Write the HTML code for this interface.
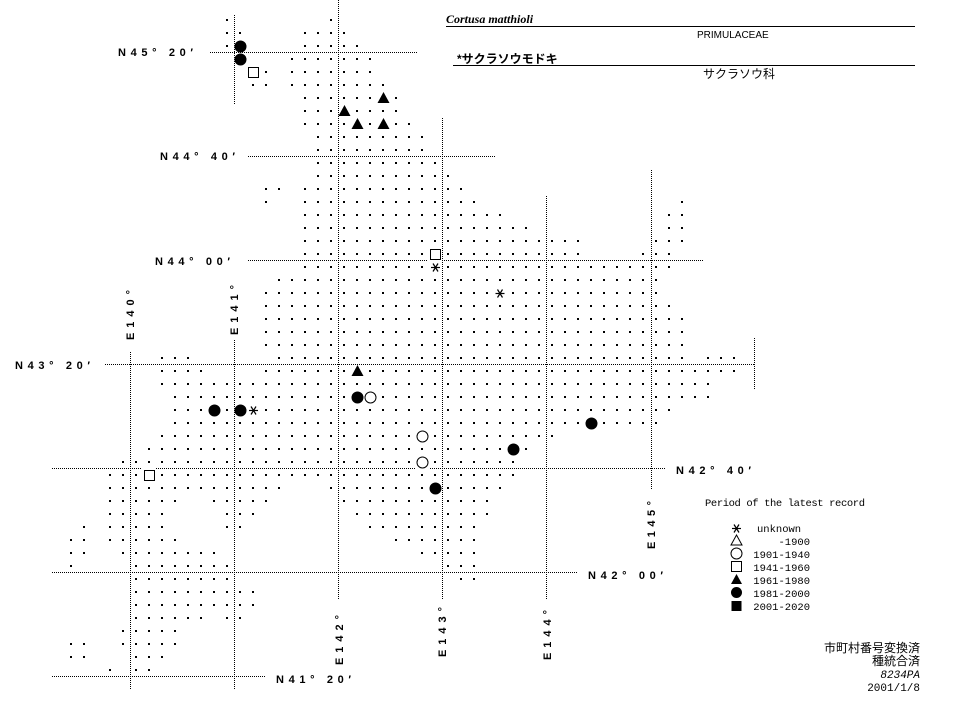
<!DOCTYPE html>
<html><head><meta charset="utf-8"><style>
html,body{margin:0;padding:0;background:#fff;}
svg{display:block;}
.lb{font-family:"Liberation Sans",sans-serif;font-weight:bold;font-size:11px;fill:#000;}
.lg{font-family:"Liberation Mono",monospace;font-size:10.5px;fill:#000;}
.jp{font-family:"Liberation Sans","Noto Sans CJK JP",sans-serif;font-size:12px;fill:#000;}
</style></head><body>
<svg width="974" height="703" viewBox="0 0 974 703" xmlns="http://www.w3.org/2000/svg">
<defs>
<pattern id="d" patternUnits="userSpaceOnUse" x="5" y="6" width="13" height="13"><rect width="2" height="2" fill="#000"/></pattern>
<g id="ast" stroke="#000" stroke-width="1.2" fill="none"><line x1="-4.5" y1="0" x2="4.5" y2="0"/><line x1="-2.5" y1="-4" x2="2.5" y2="4"/><line x1="-2.5" y1="4" x2="2.5" y2="-4"/></g>
</defs>
<rect width="974" height="703" fill="#fff"/>
<g fill="url(#d)">
<rect x="221" y="13" width="13" height="13"/><rect x="325" y="13" width="13" height="13"/>
<rect x="221" y="26" width="26" height="13"/><rect x="299" y="26" width="52" height="13"/>
<rect x="221" y="39" width="13" height="13"/><rect x="299" y="39" width="65" height="13"/>
<rect x="286" y="52" width="91" height="13"/>
<rect x="260" y="65" width="13" height="13"/><rect x="286" y="65" width="91" height="13"/>
<rect x="247" y="78" width="26" height="13"/><rect x="286" y="78" width="104" height="13"/>
<rect x="299" y="91" width="104" height="13"/>
<rect x="299" y="104" width="104" height="13"/>
<rect x="299" y="117" width="117" height="13"/>
<rect x="312" y="130" width="117" height="13"/>
<rect x="312" y="143" width="117" height="13"/>
<rect x="312" y="156" width="130" height="13"/>
<rect x="312" y="169" width="143" height="13"/>
<rect x="260" y="182" width="26" height="13"/><rect x="299" y="182" width="169" height="13"/>
<rect x="260" y="195" width="13" height="13"/><rect x="299" y="195" width="182" height="13"/><rect x="676" y="195" width="13" height="13"/>
<rect x="299" y="208" width="208" height="13"/><rect x="663" y="208" width="26" height="13"/>
<rect x="299" y="221" width="234" height="13"/><rect x="663" y="221" width="26" height="13"/>
<rect x="299" y="234" width="286" height="13"/><rect x="650" y="234" width="39" height="13"/>
<rect x="299" y="247" width="286" height="13"/><rect x="637" y="247" width="39" height="13"/>
<rect x="299" y="260" width="377" height="13"/>
<rect x="273" y="273" width="390" height="13"/>
<rect x="260" y="286" width="403" height="13"/>
<rect x="260" y="299" width="416" height="13"/>
<rect x="260" y="312" width="429" height="13"/>
<rect x="260" y="325" width="429" height="13"/>
<rect x="260" y="338" width="429" height="13"/>
<rect x="156" y="351" width="39" height="13"/><rect x="273" y="351" width="416" height="13"/><rect x="702" y="351" width="39" height="13"/>
<rect x="156" y="364" width="52" height="13"/><rect x="260" y="364" width="481" height="13"/>
<rect x="156" y="377" width="559" height="13"/>
<rect x="169" y="390" width="546" height="13"/>
<rect x="169" y="403" width="507" height="13"/>
<rect x="169" y="416" width="494" height="13"/>
<rect x="156" y="429" width="403" height="13"/>
<rect x="143" y="442" width="390" height="13"/>
<rect x="117" y="455" width="403" height="13"/>
<rect x="104" y="468" width="416" height="13"/>
<rect x="104" y="481" width="182" height="13"/><rect x="325" y="481" width="182" height="13"/>
<rect x="104" y="494" width="78" height="13"/><rect x="208" y="494" width="65" height="13"/><rect x="338" y="494" width="156" height="13"/>
<rect x="104" y="507" width="65" height="13"/><rect x="221" y="507" width="39" height="13"/><rect x="351" y="507" width="143" height="13"/>
<rect x="78" y="520" width="13" height="13"/><rect x="104" y="520" width="65" height="13"/><rect x="221" y="520" width="26" height="13"/><rect x="364" y="520" width="117" height="13"/>
<rect x="65" y="533" width="26" height="13"/><rect x="104" y="533" width="78" height="13"/><rect x="390" y="533" width="91" height="13"/>
<rect x="65" y="546" width="26" height="13"/><rect x="117" y="546" width="104" height="13"/><rect x="416" y="546" width="65" height="13"/>
<rect x="65" y="559" width="13" height="13"/><rect x="130" y="559" width="104" height="13"/><rect x="442" y="559" width="39" height="13"/>
<rect x="130" y="572" width="104" height="13"/><rect x="455" y="572" width="26" height="13"/>
<rect x="130" y="585" width="130" height="13"/>
<rect x="130" y="598" width="130" height="13"/>
<rect x="130" y="611" width="78" height="13"/><rect x="221" y="611" width="26" height="13"/>
<rect x="117" y="624" width="65" height="13"/>
<rect x="65" y="637" width="26" height="13"/><rect x="117" y="637" width="65" height="13"/>
<rect x="65" y="650" width="26" height="13"/><rect x="130" y="650" width="39" height="13"/>
<rect x="104" y="663" width="13" height="13"/><rect x="130" y="663" width="26" height="13"/>
</g>
<g stroke="#000" stroke-width="1" stroke-dasharray="1 1" fill="none">
<line x1="210" y1="52.5" x2="417" y2="52.5"/>
<line x1="248" y1="156.5" x2="495" y2="156.5"/>
<line x1="248" y1="260.5" x2="703" y2="260.5"/>
<line x1="105" y1="364.5" x2="755" y2="364.5"/>
<line x1="52" y1="468.5" x2="665" y2="468.5"/>
<line x1="52" y1="572.5" x2="577" y2="572.5"/>
<line x1="52" y1="676.5" x2="265" y2="676.5"/>
<line x1="234.5" y1="15" x2="234.5" y2="105"/>
<line x1="234.5" y1="340" x2="234.5" y2="690"/>
<line x1="130.5" y1="352" x2="130.5" y2="690"/>
<line x1="338.5" y1="0" x2="338.5" y2="600"/>
<line x1="442.5" y1="118" x2="442.5" y2="600"/>
<line x1="546.5" y1="196" x2="546.5" y2="600"/>
<line x1="651.5" y1="170" x2="651.5" y2="490"/>
<line x1="754.5" y1="338" x2="754.5" y2="390"/>
</g>
<g fill="#fff">
<rect x="246" y="65" width="14" height="14"/><rect x="428" y="247" width="14" height="14"/><rect x="142" y="468" width="14" height="14"/>
<rect x="363" y="390" width="14" height="14"/><rect x="415" y="429" width="14" height="14"/><rect x="415" y="455" width="14" height="14"/>
<rect x="429" y="261" width="12" height="12"/><rect x="494" y="287" width="12" height="12"/><rect x="247" y="404" width="12" height="12"/>
</g>
<g fill="#000">
<circle cx="240.5" cy="46.5" r="6"/><circle cx="240.5" cy="59.5" r="6"/>
<circle cx="214.5" cy="410.5" r="6"/><circle cx="240.5" cy="410.5" r="6"/>
<circle cx="357.5" cy="397.5" r="6"/><circle cx="435.5" cy="488.5" r="6"/>
<circle cx="513.5" cy="449.5" r="6"/><circle cx="591.5" cy="423.5" r="6"/>
<polygon points="383.5,92 389.5,103 377.5,103"/>
<polygon points="344.5,105 350.5,116 338.5,116"/>
<polygon points="357.5,118 363.5,129 351.5,129"/>
<polygon points="383.5,118 389.5,129 377.5,129"/>
<polygon points="357.5,365 363.5,376 351.5,376"/>
</g>
<g fill="none" stroke="#000" stroke-width="1">
<circle cx="370.5" cy="397.5" r="5.5"/><circle cx="422.5" cy="436.5" r="5.5"/><circle cx="422.5" cy="462.5" r="5.5"/>
<rect x="248.5" y="67.5" width="10" height="10"/><rect x="430.5" y="249.5" width="10" height="10"/><rect x="144.5" y="470.5" width="10" height="10"/>
</g>
<use href="#ast" x="435.5" y="267.5"/>
<use href="#ast" x="500" y="293.5"/>
<use href="#ast" x="253.5" y="410.5"/>
<text class="lb" x="118" y="56" textLength="75" lengthAdjust="spacing">N45° 20′</text>
<text class="lb" x="160" y="160" textLength="75" lengthAdjust="spacing">N44° 40′</text>
<text class="lb" x="155" y="265" textLength="75" lengthAdjust="spacing">N44° 00′</text>
<text class="lb" x="15" y="369" textLength="75" lengthAdjust="spacing">N43° 20′</text>
<text class="lb" x="676" y="474" textLength="75" lengthAdjust="spacing">N42° 40′</text>
<text class="lb" x="588" y="579" textLength="75" lengthAdjust="spacing">N42° 00′</text>
<text class="lb" x="276" y="683" textLength="75" lengthAdjust="spacing">N41° 20′</text>
<text class="lb" transform="translate(134,340) rotate(-90)" textLength="50" lengthAdjust="spacing">E140°</text>
<text class="lb" transform="translate(238,335) rotate(-90)" textLength="50" lengthAdjust="spacing">E141°</text>
<text class="lb" transform="translate(343,665) rotate(-90)" textLength="50" lengthAdjust="spacing">E142°</text>
<text class="lb" transform="translate(446,657) rotate(-90)" textLength="50" lengthAdjust="spacing">E143°</text>
<text class="lb" transform="translate(551,660) rotate(-90)" textLength="50" lengthAdjust="spacing">E144°</text>
<text class="lb" transform="translate(655,549) rotate(-90)" textLength="48" lengthAdjust="spacing">E145°</text>
<text x="446" y="23" font-family="Liberation Serif,serif" font-style="italic" font-weight="bold" font-size="12">Cortusa matthioli</text>
<line x1="446" y1="26.5" x2="915" y2="26.5" stroke="#000"/>
<text x="697" y="38" font-family="Liberation Sans,sans-serif" font-size="10">PRIMULACEAE</text>
<text x="457" y="63" font-family="Liberation Sans,'Noto Sans CJK JP',sans-serif" font-weight="bold" font-size="12">*サクラソウモドキ</text>
<line x1="453" y1="65.5" x2="915" y2="65.5" stroke="#000"/>
<text x="703" y="78" class="jp" font-size="12">サクラソウ科</text>
<text class="lg" x="705" y="506" textLength="160" lengthAdjust="spacing">Period of the latest record</text>
<use href="#ast" x="736.5" y="528.5"/>
<text class="lg" x="757" y="532">unknown</text>
<polygon points="736.5,535 742,545 731,545" fill="none" stroke="#000"/>
<text class="lg" x="810" y="545" text-anchor="end">-1900</text>
<circle cx="736.5" cy="553.5" r="5.5" fill="none" stroke="#000"/>
<text class="lg" x="810" y="558" text-anchor="end">1901-1940</text>
<rect x="731.5" y="561.5" width="10" height="10" fill="none" stroke="#000"/>
<text class="lg" x="810" y="571" text-anchor="end">1941-1960</text>
<polygon points="736.5,574 742,584 731,584" fill="#000"/>
<text class="lg" x="810" y="584" text-anchor="end">1961-1980</text>
<circle cx="736.5" cy="592.5" r="5.5" fill="#000"/>
<text class="lg" x="810" y="597" text-anchor="end">1981-2000</text>
<rect x="731.5" y="601" width="10" height="10" fill="#000"/>
<text class="lg" x="810" y="610" text-anchor="end">2001-2020</text>
<g class="jp" text-anchor="end">
<text x="920" y="652">市町村番号変換済</text>
<text x="920" y="665">種統合済</text>
<text x="920" y="678" font-style="italic" font-family="Liberation Mono,monospace" font-size="11">8234PA</text>
<text x="920" y="691" font-family="Liberation Mono,monospace" font-size="11">2001/1/8</text>
</g>
</svg>
</body></html>
